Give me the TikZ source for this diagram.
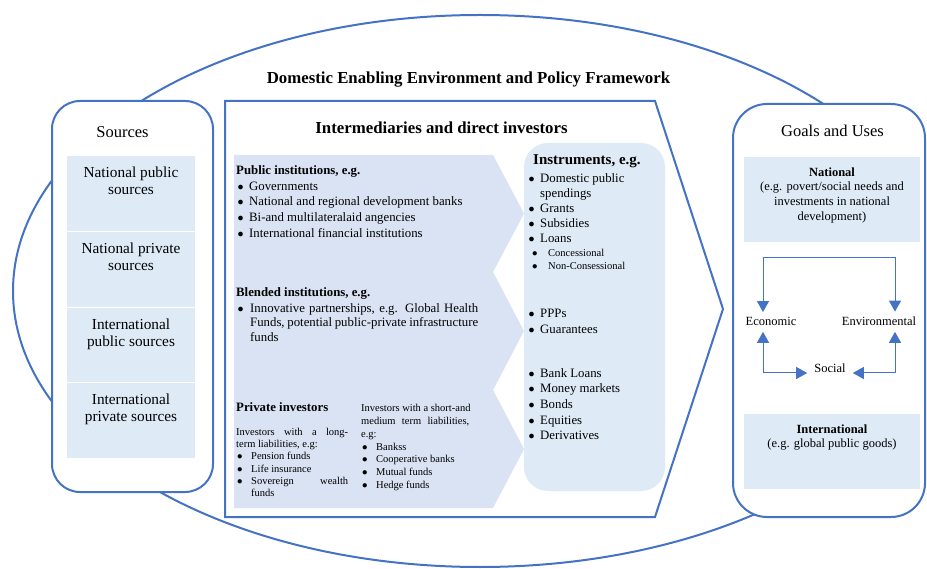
\documentclass[tikz,border=0pt]{standalone}
\usepackage{fontspec}
\setmainfont{Liberation Serif}
\usetikzlibrary{arrows.meta}
\usetikzlibrary{positioning}

\definecolor{frameblue}{RGB}{68,114,196}
\definecolor{cellblue}{RGB}{222,235,247}
\definecolor{flowblue}{RGB}{218,227,243}

% bullets for the hand-set lists
\newcommand{\bul}{\makebox[13pt][l]{\hspace{1.5pt}$\bullet$}}
\newcommand{\wbul}{\makebox[14pt][l]{\hspace{1.5pt}$\bullet$}}
\newcommand{\sbul}{\makebox[15pt][l]{\hspace{1pt}$\bullet$}}
\newcommand{\subbul}{\makebox[17pt][l]{\hspace{1pt}$\bullet$}}

\begin{document}
\begin{tikzpicture}[x=1pt,y=-1pt,
  rim/.style={draw=frameblue,line width=2pt},
  cell/.style={fill=cellblue,inner sep=0pt,anchor=north},
  celltxt/.style={inner sep=0pt,anchor=north,align=center,font=\fontsize{15.3}{16.8}\selectfont},
  goaltxt/.style={inner sep=0pt,anchor=north,align=center,font=\fontsize{12.5}{14.7}\selectfont},
  head/.style={anchor=base,inner sep=0pt,font=\fontsize{16.5}{19}\selectfont},
  bhead/.style={anchor=base,inner sep=0pt,font=\fontsize{16.8}{20}\selectfont\bfseries},
  lsthead/.style={anchor=base west,inner sep=0pt,font=\fontsize{12.8}{15.7}\selectfont\bfseries},
  lst/.style={anchor=north west,inner sep=0pt,align=left,font=\fontsize{12.8}{15.7}\selectfont},
  sml/.style={anchor=north west,inner sep=0pt,align=left,font=\fontsize{10.5}{12.3}\selectfont},
  pillar/.style={anchor=base,inner xsep=4pt,inner ysep=5.5pt,font=\fontsize{12.5}{14.7}\selectfont},
  cyc/.style={draw=frameblue,line width=1pt,<->,>={Triangle[width=12pt,length=11pt]}}]
\useasboundingbox (0,0) rectangle (927,569);

% policy framework ring behind everything
\begin{scope}
  \clip (0,0) rectangle (924,569);
  \draw[rim] (480,291) ellipse [x radius=467pt,y radius=276pt];
\end{scope}
\node[bhead] (dee) at (468.5,84) {Domestic Enabling Environment and Policy Framework};

% sources
\node[rim,fill=white,rounded corners=28pt,minimum width=161pt,minimum height=391pt,inner sep=0pt] (src) at (132.5,296.5) {};
\node[head] (srct) at (122.5,138) {Sources};
\node[cell,minimum width=128pt,minimum height=75pt] (natpub) at (131,156) {};
\node[cell,minimum width=128pt,minimum height=75pt] (natpriv) at (131,232) {};
\node[cell,minimum width=128pt,minimum height=74pt] (intpub) at (131,308) {};
\node[cell,minimum width=128pt,minimum height=75pt] (intpriv) at (131,383) {};
\node[celltxt,below=9.7pt of natpub.north] {\strut National public\\sources};
\node[celltxt,below=9.7pt of natpriv.north] {\strut National private\\sources};
\node[celltxt,below=9.7pt of intpub.north] {\strut International\\public sources};
\node[celltxt,below=9.7pt of intpriv.north] {\strut International\\private sources};

% intermediaries
\draw[rim,fill=white] (225,101) -- (655,101) -- (723,309) -- (655,517) -- (225,517) -- cycle;
\node[bhead] (intt) at (441.5,134) {Intermediaries and direct investors};
\fill[flowblue] (234,155) -- (493,155) -- (524,213.5) -- (493,272) -- (524,331)
  -- (493,390) -- (524,449) -- (493,508) -- (234,508) -- cycle;

\node[lsthead] (pubh) at (236,175) {Public institutions, e.g.};
\node[lst] (publ) at (236,179) {\strut\bul Governments\\
  \bul National and regional development banks\\
  \bul Bi-and multilateralaid angencies\\
  \bul International financial institutions};

\node[lsthead] (blndh) at (236,297) {Blended institutions, e.g.};
\node[lst,font=\fontsize{12.8}{14.6}\selectfont] (blndl) at (236,301.8) {\strut\wbul\makebox[228pt][s]{Innovative partnerships, e.g. Global Health}\\
  \hspace*{14pt}\makebox[228pt][s]{Funds, potential public-private infrastructure}\\
  \hspace*{14pt}funds};

\node[lsthead] (privh) at (236,411) {Private investors};
\node[sml] (longl) at (236,426.4) {\strut\makebox[112pt][s]{Investors with a long-}\\
  term liabilities, e.g:\\
  \sbul Pension funds\\
  \sbul Life insurance\\
  \sbul\makebox[97pt][s]{Sovereign wealth}\\
  \hspace*{15pt}funds};
\node[sml,font=\fontsize{10.5}{12.8}\selectfont] (shortl) at (361,402.5) {\strut Investors with a short-and\\
  \makebox[108pt][s]{medium term liabilities,}\\
  e.g:\\
  \sbul Bankss\\
  \sbul Cooperative banks\\
  \sbul Mutual funds\\
  \sbul Hedge funds};

% instruments
\node[fill=cellblue,rounded corners=24pt,minimum width=141pt,minimum height=348pt,inner sep=0pt] (ins) at (594.5,317) {};
\node[lsthead,font=\fontsize{15}{18}\selectfont\bfseries] (insh) at (533,165) {Instruments, e.g.};
\node[lst,font=\fontsize{12.8}{15}\selectfont] (insa) at (527,171.5) {\strut\bul Domestic public\\
  \hspace*{13pt}spendings\\
  \bul Grants\\
  \bul Subsidies\\
  \bul Loans};
\node[sml,font=\fontsize{10.5}{13.5}\selectfont] (insb) at (531,246.5) {\strut\subbul Concessional\\
  \subbul Non-Consessional};
\node[lst,font=\fontsize{12.8}{16}\selectfont] (insc) at (527,306.5) {\strut\bul PPPs\\
  \bul Guarantees};
\node[lst,font=\fontsize{12.8}{15.6}\selectfont] (insd) at (527,366.1) {\strut\bul Bank Loans\\
  \bul Money markets\\
  \bul Bonds\\
  \bul Equities\\
  \bul Derivatives};

% goals and uses
\node[rim,fill=white,rounded corners=34pt,minimum width=192pt,minimum height=413pt,inner sep=0pt] (goal) at (829,310.5) {};
\node[head] (goalt) at (832.5,137) {Goals and Uses};
\node[cell,minimum width=176pt,minimum height=85pt] (natgoal) at (832,157) {};
\node[cell,minimum width=176pt,minimum height=75pt] (intgoal) at (832,414) {};
\node[goaltxt,below=8.7pt of natgoal.north] {\strut\textbf{National}\\(e.g. povert/social needs and\\investments in national\\development)};
\node[goaltxt,below=8.7pt of intgoal.north] {\strut\textbf{International}\\(e.g. global public goods)};

\node[pillar] (econ) at (771,326) {Economic};
\node[pillar] (env) at (879,326) {Environmental};
\node[pillar,inner xsep=7pt] (social) at (830,373) {Social};
\coordinate (ringl) at (763,258);
\coordinate (ringr) at (895,258);
\coordinate (ringbl) at (763,373);
\coordinate (ringbr) at (895,373);
\draw[cyc] (econ.north -| ringl) -- (ringl) -- (ringr) -- (env.north -| ringr);
\draw[cyc] (econ.south -| ringbl) -- (ringbl) -- (ringbl -| social.west);
\draw[cyc] (env.south -| ringbr) -- (ringbr) -- (ringbr -| social.east);
\end{tikzpicture}
\end{document}
